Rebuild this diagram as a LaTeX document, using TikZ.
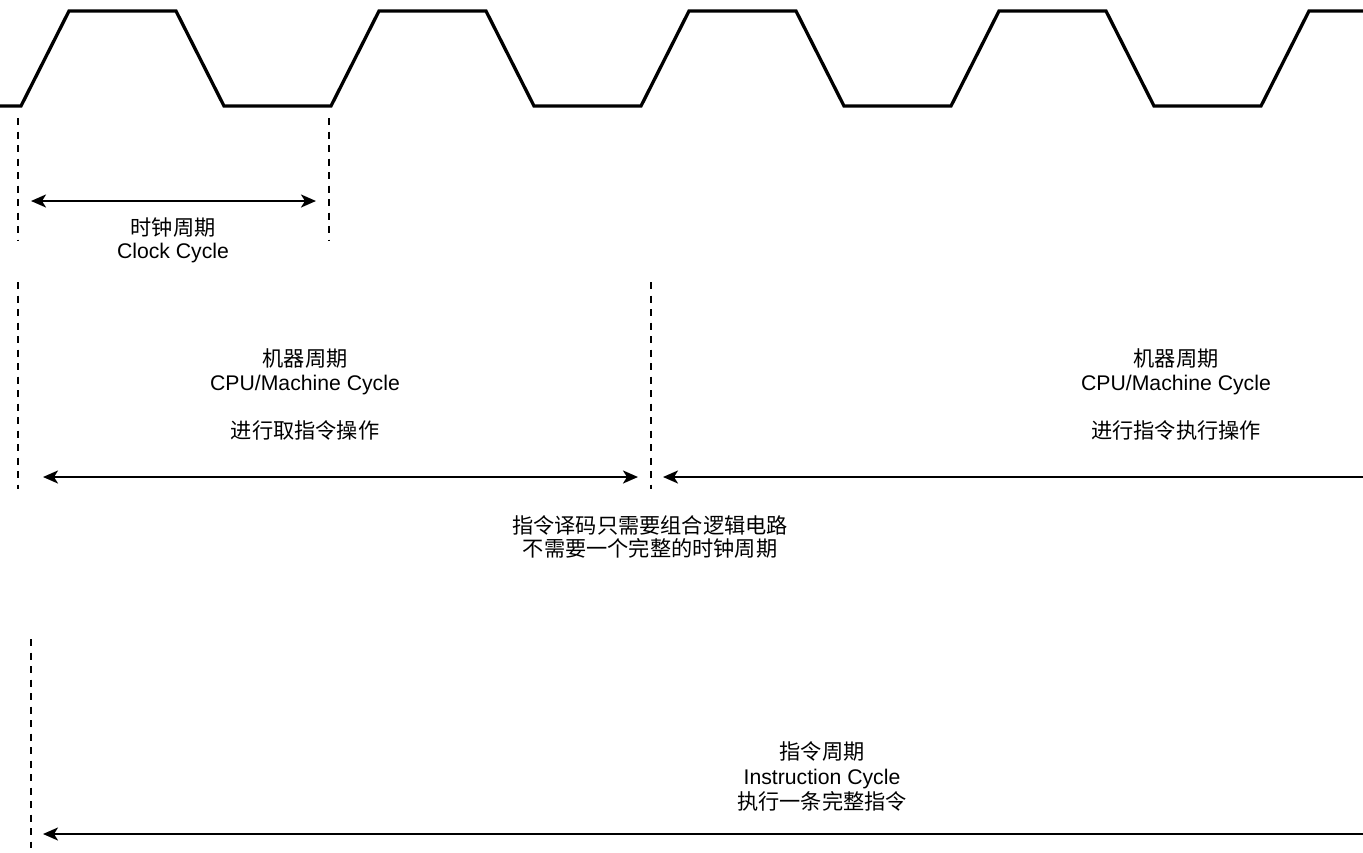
\documentclass[tikz,border=0pt]{standalone}
\usepackage{fontspec}
\setmainfont{Liberation Sans}
\newfontfamily\cjk{Noto Sans CJK SC}
\usetikzlibrary{arrows.meta}
\begin{document}
\begin{tikzpicture}[x=1pt,y=-1pt,
  wave/.style={line width=3.3pt, line join=miter},
  guide/.style={line width=2.4pt, dash pattern=on 7pt off 6.5pt},
  span/.style={line width=2.4pt, {Stealth[length=15pt,width=13pt,inset=4pt]}-{Stealth[length=15pt,width=13pt,inset=4pt]}},
  leftspan/.style={line width=2.4pt, {Stealth[length=15pt,width=13pt,inset=4pt]}-},
  label/.style={align=center, inner sep=0pt, font=\fontsize{21.2}{24}\selectfont}]
\useasboundingbox (0,0) rectangle (1363,852);

% clock waveform: trapezoidal pulses, period 310
\draw[wave] (0,106)
  \foreach \k in {0,1,2,3} {
    -- ({21+310*\k},106) -- ({69+310*\k},11) -- ({176+310*\k},11) -- ({224+310*\k},106)
  }
  -- (1261,106) -- (1309,11) -- (1363,11);

% guide lines and their end points
\coordinate (ckAt) at (18,118);   \coordinate (ckAb) at (18,240);
\coordinate (ckBt) at (329,118);  \coordinate (ckBb) at (329,240);
\coordinate (mcAt) at (18,282);   \coordinate (mcAb) at (18,489);
\coordinate (mcBt) at (651,282);  \coordinate (mcBb) at (651,489);
\coordinate (icAt) at (31,639);   \coordinate (icAb) at (31,848);
\draw[guide] (ckAt) -- (ckAb);
\draw[guide] (ckBt) -- (ckBb);
\draw[guide] (mcAt) -- (mcAb);
\draw[guide] (mcBt) -- (mcBb);
\draw[guide] (icAt) -- (icAb);

% span arrows
\coordinate (ckL) at (31,201);   \coordinate (ckR) at (316,201);
\coordinate (fetchL) at (43,477); \coordinate (fetchR) at (638,477);
\coordinate (execL) at (663,477); \coordinate (execR) at (1363,477);
\coordinate (instL) at (43,834);  \coordinate (instR) at (1363,834);
\draw[span] (ckL) -- (ckR);
\draw[span] (fetchL) -- (fetchR);
\draw[leftspan] (execL) -- (execR);
\draw[leftspan] (instL) -- (instR);

% labels
\node[label, font=\fontsize{21.2}{23}\selectfont] (clk) at (173,240)
  {{\cjk 时钟周期}\\Clock Cycle};
\node[label] (fetch) at (305,394)
  {{\cjk 机器周期}\\CPU/Machine Cycle\\[24pt]{\cjk 进行取指令操作}};
\node[label] (exec) at (1176,394)
  {{\cjk 机器周期}\\CPU/Machine Cycle\\[24pt]{\cjk 进行指令执行操作}};
\node[label, font=\fontsize{21.2}{23.5}\selectfont] (decode) at (650,537)
  {{\cjk 指令译码只需要组合逻辑电路}\\{\cjk 不需要一个完整的时钟周期}};
\node[label, font=\fontsize{21.2}{25}\selectfont] (inst) at (822,776)
  {{\cjk 指令周期}\\Instruction Cycle\\{\cjk 执行一条完整指令}};
\end{tikzpicture}
\end{document}
